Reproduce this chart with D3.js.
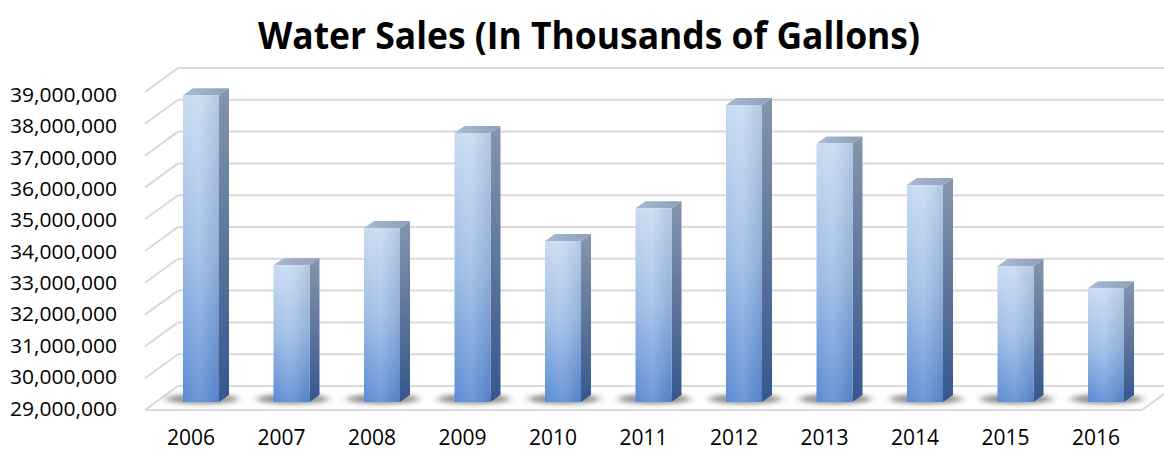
<!DOCTYPE html>
<html>
<head>
<meta charset="utf-8">
<script src="https://cdn.jsdelivr.net/npm/d3@7/dist/d3.min.js"></script>
<style>
  body { margin: 0; background: #ffffff; }
  svg { display: block; }
</style>
</head>
<body>
<svg id="chart" width="1164" height="451"></svg>
<script>
// Annual water sales, thousands of gallons
const years = ["2006", "2007", "2008", "2009", "2010", "2011", "2012", "2013", "2014", "2015", "2016"];
const sales = [38650000, 33300000, 34470000, 37460000, 34060000, 35090000, 38340000, 37130000, 35820000, 33280000, 32580000];
const tickValues = [29000000, 30000000, 31000000, 32000000, 33000000, 34000000, 35000000, 36000000, 37000000, 38000000, 39000000];
const chartTitle = "Water Sales (In Thousands of Gallons)";

const svg = d3.select("#chart");

// 3-D layout: back wall plane, floor depth vector, column depth vector
const wallLeft = 178, wallRight = 1164;
const floorDepth = { dx: -33, dy: 24 };   // from back wall to front edge of floor
const colDepth = { dx: 10, dy: -7 };      // front face to back face of a column
const colFrontOffset = 16;                // column front plane, px below back wall

const yBack = d3.scaleLinear().domain([29000000, 39000000]).range([386, 68]);
const yLabel = d3.scaleLinear().domain([29000000, 39000000]).range([408.5, 95]);
const x = d3.scaleBand().domain(years)
  .range([155.75, 1151.25]).paddingInner(0.602).paddingOuter(0.301);

const defs = svg.append("defs");
const gFront = defs.append("linearGradient").attr("id", "gFront")
  .attr("x1", 0).attr("y1", 0).attr("x2", 0).attr("y2", 1);
gFront.append("stop").attr("offset", "0%").attr("stop-color", "#c8daf1");
gFront.append("stop").attr("offset", "50%").attr("stop-color", "#9fbde6");
gFront.append("stop").attr("offset", "100%").attr("stop-color", "#5a8bd4");

const gShine = defs.append("linearGradient").attr("id", "gShine")
  .attr("x1", 0).attr("y1", 0).attr("x2", 1).attr("y2", 0);
gShine.append("stop").attr("offset", "0%").attr("stop-color", "#ffffff").attr("stop-opacity", 0.0);
gShine.append("stop").attr("offset", "45%").attr("stop-color", "#ffffff").attr("stop-opacity", 0.12);
gShine.append("stop").attr("offset", "100%").attr("stop-color", "#1f3f70").attr("stop-opacity", 0.12);

const gSide = defs.append("linearGradient").attr("id", "gSide")
  .attr("x1", 0).attr("y1", 0).attr("x2", 0).attr("y2", 1);
gSide.append("stop").attr("offset", "0%").attr("stop-color", "#8595ad");
gSide.append("stop").attr("offset", "55%").attr("stop-color", "#5a729a");
gSide.append("stop").attr("offset", "100%").attr("stop-color", "#35578f");

const gTop = defs.append("linearGradient").attr("id", "gTop")
  .attr("x1", 0).attr("y1", 0).attr("x2", 1).attr("y2", 0);
gTop.append("stop").attr("offset", "0%").attr("stop-color", "#a9bad2");
gTop.append("stop").attr("offset", "100%").attr("stop-color", "#8d9fba");

const blur = defs.append("filter").attr("id", "shadowBlur")
  .attr("x", "-50%").attr("y", "-200%").attr("width", "200%").attr("height", "500%");
blur.append("feGaussianBlur").attr("stdDeviation", "4 2.5");

// Title
svg.append("text")
  .attr("x", 589).attr("y", 49)
  .attr("text-anchor", "middle")
  .attr("font-family", "'Open Sans', sans-serif")
  .attr("font-weight", 700)
  .attr("font-size", 37)
  .attr("textLength", 662)
  .attr("lengthAdjust", "spacingAndGlyphs")
  .attr("fill", "#000")
  .text(chartTitle);

// Gridlines: back wall horizontals plus side wall diagonals
const grid = svg.append("g").attr("stroke", "#d9d9d9").attr("stroke-width", 2).attr("fill", "none");
grid.selectAll("line.back").data(tickValues).join("line")
  .attr("class", "back")
  .attr("x1", wallLeft).attr("x2", wallRight)
  .attr("y1", d => yBack(d)).attr("y2", d => yBack(d));
grid.selectAll("line.side").data(tickValues).join("line")
  .attr("class", "side")
  .attr("x1", wallLeft + floorDepth.dx).attr("y1", d => yBack(d) + floorDepth.dy)
  .attr("x2", wallLeft).attr("y2", d => yBack(d));

// Floor front edge and right edge
const floorY = yBack(29000000);
const floorRight = x(years[years.length - 1]) + x.bandwidth() + 18;
grid.append("line")
  .attr("x1", wallLeft + floorDepth.dx).attr("x2", floorRight)
  .attr("y1", floorY + floorDepth.dy).attr("y2", floorY + floorDepth.dy);
grid.append("line")
  .attr("x1", floorRight).attr("y1", floorY + floorDepth.dy)
  .attr("x2", floorRight - floorDepth.dx).attr("y2", floorY);

// Y axis labels at the front end of each side wall line
svg.append("g").selectAll("text").data(tickValues).join("text")
  .attr("x", 117).attr("y", d => yLabel(d))
  .attr("dy", "0.35em")
  .attr("text-anchor", "end")
  .attr("font-family", "'Open Sans', sans-serif")
  .attr("font-size", 20)
  .attr("textLength", 107)
  .attr("lengthAdjust", "spacingAndGlyphs")
  .attr("fill", "#000")
  .text(d => d3.format(",")(d));

// Category labels on the front edge of the floor
svg.append("g").selectAll("text").data(years).join("text")
  .attr("x", d => x(d) + x.bandwidth() / 2 - 10)
  .attr("y", 445)
  .attr("text-anchor", "middle")
  .attr("font-family", "'Open Sans', sans-serif")
  .attr("font-size", 21)
  .attr("fill", "#000")
  .text(d => d);

const data = years.map((y, i) => ({ year: y, value: sales[i] }));
const baseY = yBack(29000000) + colFrontOffset;
const yFront = v => yBack(v) + colFrontOffset;

// Soft shadows under columns
svg.append("g").selectAll("ellipse").data(data).join("ellipse")
  .attr("cx", d => x(d.year) + x.bandwidth() / 2 + 1)
  .attr("cy", baseY - 3)
  .attr("rx", x.bandwidth() * 1.0)
  .attr("ry", 5)
  .attr("fill", "#5e5e5e")
  .attr("opacity", 0.7)
  .attr("filter", "url(#shadowBlur)");

// Columns
const cols = svg.append("g").selectAll("g").data(data).join("g");
const bw = x.bandwidth();

cols.append("path") // side face
  .attr("d", d => {
    const x0 = x(d.year) + bw, yt = yFront(d.value);
    return `M${x0},${yt} L${x0 + colDepth.dx},${yt + colDepth.dy} L${x0 + colDepth.dx},${baseY + colDepth.dy} L${x0},${baseY} Z`;
  })
  .attr("fill", "url(#gSide)");

cols.append("path") // top face
  .attr("d", d => {
    const x0 = x(d.year), yt = yFront(d.value);
    return `M${x0},${yt} L${x0 + colDepth.dx},${yt + colDepth.dy} L${x0 + bw + colDepth.dx},${yt + colDepth.dy} L${x0 + bw},${yt} Z`;
  })
  .attr("fill", "url(#gTop)");

cols.append("rect") // front face
  .attr("x", d => x(d.year))
  .attr("y", d => yFront(d.value))
  .attr("width", bw)
  .attr("height", d => baseY - yFront(d.value))
  .attr("fill", "url(#gFront)");

cols.append("rect") // front face sheen
  .attr("x", d => x(d.year))
  .attr("y", d => yFront(d.value))
  .attr("width", bw)
  .attr("height", d => baseY - yFront(d.value))
  .attr("fill", "url(#gShine)");
</script>
</body>
</html>
